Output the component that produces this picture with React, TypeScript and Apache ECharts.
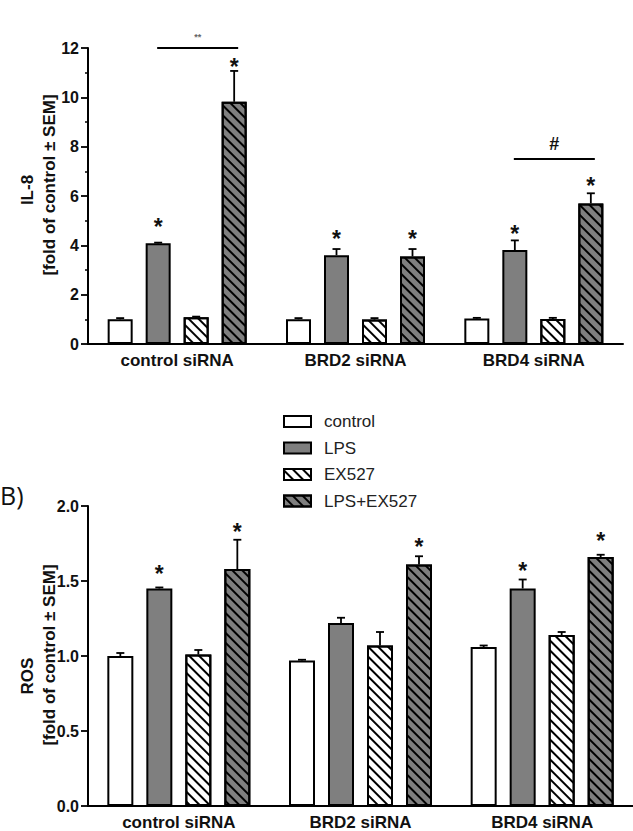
import React, { useEffect, useRef } from "react";
import * as echarts from "echarts";

const categories = ["control siRNA", "BRD2 siRNA", "BRD4 siRNA"];
const treatments = ["control", "LPS", "EX527", "LPS+EX527"];

// IL-8 means and SEM
const il8Control = [1.0, 1.0, 1.03];
const il8LPS = [4.08, 3.6, 3.81];
const il8EX527 = [1.08, 0.99, 1.01];
const il8LPSEX = [9.82, 3.55, 5.7];
const il8ControlSem = [0.05, 0.05, 0.03];
const il8LPSSem = [0.03, 0.25, 0.39];
const il8EX527Sem = [0.03, 0.06, 0.05];
const il8LPSEXSem = [1.25, 0.3, 0.41];

// ROS means and SEM
const rosControl = [1.0, 0.97, 1.06];
const rosLPS = [1.45, 1.22, 1.45];
const rosEX527 = [1.01, 1.07, 1.14];
const rosLPSEX = [1.58, 1.61, 1.66];
const rosControlSem = [0.02, 0.005, 0.01];
const rosLPSSem = [0.007, 0.035, 0.06];
const rosEX527Sem = [0.03, 0.09, 0.02];
const rosLPSEXSem = [0.195, 0.055, 0.015];

// asterisk positions (y, axis units) per treatment; null = none
const il8StarLPS = [4.95, 4.46, 4.66];
const il8StarLPSEX = [11.43, 4.46, 6.61];
const rosStarLPS = [1.58, null, 1.6];
const rosStarLPSEX = [1.863, 1.763, 1.797];

// significance brackets: [category, from treatment, to treatment, y]
const il8Brackets = [
  [0, 1, 3, 12.0],
  [2, 1, 3, 7.5],
];
const il8BracketLabels = ["**", "#"];

// axis ticks
const il8Ticks = { min: 0, max: 12, interval: 2 };
const rosTicks = { min: 0, max: 2, interval: 0.5 };

const FONT = "'Liberation Sans', Arial, sans-serif";
const INK = "#111";
const GRAY = "#7f7f7f";

const hatch = {
  symbol: "rect",
  symbolSize: 1,
  dashArrayX: [1, 0],
  dashArrayY: [1.8, 4.4],
  rotation: Math.PI / 4,
  color: "#000",
};

const fills = [
  { color: "#fff", decal: null },
  { color: GRAY, decal: null },
  { color: "#fff", decal: hatch },
  { color: GRAY, decal: hatch },
];

export default function App() {
  const ref = useRef<HTMLDivElement>(null);

  useEffect(() => {
    if (!ref.current) return;
    const chart = echarts.init(ref.current, null, { renderer: "svg" });

    const grids = [
      { means: [il8Control, il8LPS, il8EX527, il8LPSEX], sems: [il8ControlSem, il8LPSSem, il8EX527Sem, il8LPSEXSem], stars: [null, il8StarLPS, null, il8StarLPSEX], barWidth: 25, gap: 13 },
      { means: [rosControl, rosLPS, rosEX527, rosLPSEX], sems: [rosControlSem, rosLPSSem, rosEX527Sem, rosLPSEXSem], stars: [null, rosStarLPS, null, rosStarLPSEX], barWidth: 26, gap: 13 },
    ];

    const series: any[] = [];
    grids.forEach((g, gi) => {
      const step = g.barWidth + g.gap;
      treatments.forEach((t, ti) => {
        const itemStyle: any = { color: fills[ti].color, borderColor: "#000", borderWidth: 2 };
        if (fills[ti].decal) itemStyle.decal = fills[ti].decal;
        series.push({
          type: "bar",
          name: t,
          xAxisIndex: gi,
          yAxisIndex: gi,
          data: g.means[ti],
          barWidth: g.barWidth,
          barGap: (g.gap / g.barWidth) * 100 + "%",
          itemStyle,
          emphasis: { disabled: true },
          z: 2,
        });
      });
      // error bars
      const errData: number[][] = [];
      treatments.forEach((t, ti) => {
        g.means[ti].forEach((m, ci) => errData.push([ci, ti, m, m + g.sems[ti][ci]]));
      });
      series.push({
        type: "custom",
        xAxisIndex: gi,
        yAxisIndex: gi,
        data: errData,
        encode: { x: 0, y: 3 },
        z: 3,
        silent: true,
        renderItem: (params: any, api: any) => {
          const ci = api.value(0);
          const ti = api.value(1);
          const p0 = api.coord([ci, api.value(2)]);
          const p1 = api.coord([ci, api.value(3)]);
          const x = p0[0] + (ti - 1.5) * step;
          return {
            type: "group",
            children: [
              { type: "line", shape: { x1: x, y1: p0[1], x2: x, y2: p1[1] }, style: { stroke: "#000", lineWidth: 1.8 } },
              { type: "line", shape: { x1: x - 4, y1: p1[1], x2: x + 4, y2: p1[1] }, style: { stroke: "#000", lineWidth: 1.8 } },
            ],
          };
        },
      });
      // asterisks
      const starData: number[][] = [];
      g.stars.forEach((arr, ti) => {
        if (!arr) return;
        arr.forEach((v, ci) => {
          if (v != null) starData.push([ci, ti, v]);
        });
      });
      series.push({
        type: "custom",
        xAxisIndex: gi,
        yAxisIndex: gi,
        data: starData,
        encode: { x: 0, y: 2 },
        z: 4,
        silent: true,
        renderItem: (params: any, api: any) => {
          const ci = api.value(0);
          const ti = api.value(1);
          const p = api.coord([ci, api.value(2)]);
          return {
            type: "text",
            x: p[0] + (ti - 1.5) * step,
            y: p[1] + 5,
            style: {
              text: "*",
              fill: INK,
              font: `bold 23px ${FONT}`,
              textAlign: "center",
              textVerticalAlign: "middle",
              verticalAlign: "middle",
            },
          };
        },
      });
    });

    // significance brackets on IL-8 panel
    const step0 = grids[0].barWidth + grids[0].gap;
    series.push({
      type: "custom",
      xAxisIndex: 0,
      yAxisIndex: 0,
      data: il8Brackets,
      encode: { x: 0, y: 3 },
      z: 4,
      silent: true,
      clip: false,
      renderItem: (params: any, api: any) => {
        const ci = api.value(0);
        const p = api.coord([ci, api.value(3)]);
        const x1 = p[0] + (api.value(1) - 1.5) * step0 - 1;
        const x2 = p[0] + (api.value(2) - 1.5) * step0 + 4;
        const label = il8BracketLabels[params.dataIndex];
        const isHash = label === "#";
        return {
          type: "group",
          children: [
            { type: "line", shape: { x1, y1: p[1], x2, y2: p[1] }, style: { stroke: "#000", lineWidth: 2 } },
            {
              type: "text",
              x: (x1 + x2) / 2,
              y: isHash ? p[1] - 15 : p[1] - 11,
              style: {
                text: label,
                fill: isHash ? INK : "#666",
                font: isHash ? `bold 18px ${FONT}` : `bold 9px ${FONT}`,
                textAlign: "center",
                textVerticalAlign: "middle",
                verticalAlign: "middle",
              },
            },
          ],
        };
      },
    });

    const xAxisBase = {
      type: "category",
      data: categories,
      boundaryGap: true,
      axisLine: { lineStyle: { color: "#000", width: 2 } },
      axisTick: { alignWithLabel: true, length: 6, lineStyle: { color: "#000", width: 1.8 } },
      axisLabel: { color: INK, fontFamily: FONT, fontWeight: "bold", fontSize: 17, margin: 8 },
      splitLine: { show: false },
    };
    const yAxisBase = {
      type: "value",
      axisLine: { show: true, lineStyle: { color: "#000", width: 2 } },
      axisTick: { show: true, length: 7, lineStyle: { color: "#000", width: 1.8 } },
      axisLabel: { color: INK, fontFamily: FONT, fontWeight: "bold", fontSize: 16, margin: 9 },
      splitLine: { show: false },
    };

    const titleStyle = (text: string) => ({
      text,
      fill: INK,
      font: `bold 17px ${FONT}`,
      textAlign: "center",
      textVerticalAlign: "middle",
      verticalAlign: "middle",
    });

    chart.setOption({
      animation: false,
      grid: [
        { left: 88, top: 48, width: 535, height: 296 },
        { left: 88, top: 506, width: 545, height: 302 },
      ],
      xAxis: [
        { ...xAxisBase, gridIndex: 0 },
        { ...xAxisBase, gridIndex: 1 },
      ],
      yAxis: [
        {
          ...yAxisBase,
          gridIndex: 0,
          ...il8Ticks,
          minorTick: { show: true, splitNumber: 2, length: 3, lineStyle: { color: "#000", width: 1.5 } },
        },
        {
          ...yAxisBase,
          gridIndex: 1,
          ...rosTicks,
          axisLabel: { ...yAxisBase.axisLabel, formatter: (v: number) => v.toFixed(1) },
        },
      ],
      legend: {
        data: treatments,
        orient: "vertical",
        left: 278,
        top: 408,
        icon: "rect",
        itemWidth: 27,
        itemHeight: 11,
        itemGap: 9.5,
        selectedMode: false,
        textStyle: { color: "#222", fontFamily: FONT, fontSize: 17, padding: [0, 0, 0, 8] },
      },
      graphic: [
        { type: "text", x: 27, y: 190, rotation: Math.PI / 2, style: titleStyle("IL-8") },
        { type: "text", x: 49, y: 185, rotation: Math.PI / 2, style: titleStyle("[fold of control \u00B1 SEM]") },
        { type: "text", x: 27, y: 676, rotation: Math.PI / 2, style: titleStyle("ROS") },
        { type: "text", x: 49, y: 655, rotation: Math.PI / 2, style: titleStyle("[fold of control \u00B1 SEM]") },
        {
          type: "text",
          x: 0,
          y: 495,
          style: { text: "B)", fill: INK, font: `25px 'Open Sans', ${FONT}`, textAlign: "left", textVerticalAlign: "middle", verticalAlign: "middle" },
        },
      ],
      series,
    });

    return () => chart.dispose();
  }, []);

  return (
    <div
      ref={ref}
      style={{ position: "absolute", left: 0, top: 0, width: 633, height: 831, background: "#fff" }}
    />
  );
}
